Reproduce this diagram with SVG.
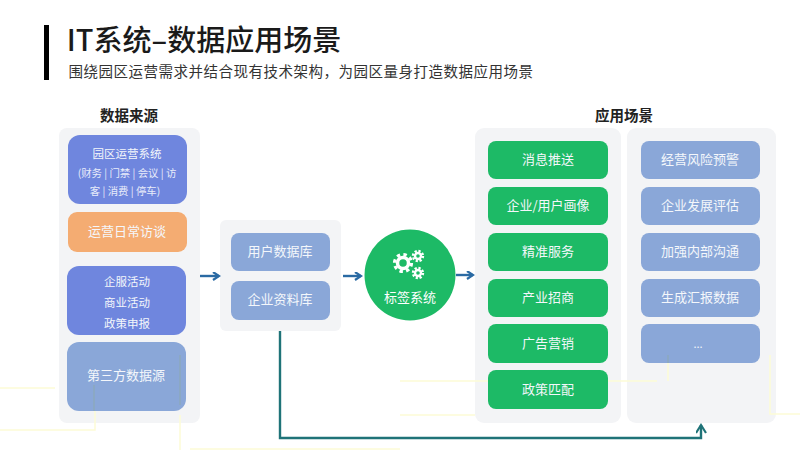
<svg xmlns="http://www.w3.org/2000/svg" width="800" height="450" viewBox="0 0 800 450">
<defs>
<style>
text{font-family:"Noto Sans CJK SC","Noto Sans",sans-serif;text-anchor:middle}
.panel{fill:#f3f4f6}
.lbl{fill:#f4f7fb;font-size:13px}
.small{fill:#e8ecfa;font-size:10.4px}
.head{fill:#222;font-size:14.5px;font-weight:700}
.green{fill:#1dba66}
.steel{fill:#8aa7d8}
.indigo{fill:#6f86de}
.deco{fill:none;stroke:#fdfbd6;stroke-width:1.5}
.over{fill:none;stroke:#8fae9e;stroke-width:1.5;opacity:.45}
.conn{fill:none;stroke-width:2.4}
.gear{fill:none;stroke:#fff}
</style>
<marker id="ab" markerWidth="10" markerHeight="10" refX="7" refY="4" orient="auto" markerUnits="userSpaceOnUse"><path d="M1 0L7 4L1 8" fill="none" stroke="#2a6aa3" stroke-width="2.2"/></marker>
<marker id="at" markerWidth="12" markerHeight="12" refX="9" refY="5" orient="auto" markerUnits="userSpaceOnUse"><path d="M1 0L9 5L1 10" fill="none" stroke="#1f7378" stroke-width="2.2"/></marker>
</defs>
<rect width="800" height="450" fill="#fff"/>
<g id="panels">
<rect class="panel" x="59" y="128" width="141" height="295" rx="8"/>
<rect class="panel" x="220" y="220" width="121" height="111" rx="6"/>
<rect class="panel" x="475" y="128" width="146" height="295" rx="9"/>
<rect class="panel" x="627" y="128" width="149" height="295" rx="9"/>
</g>
<g id="background-lines">
<path class="deco" d="M0 430H95V385"/><path class="deco" d="M0 388H55"/><path class="deco" d="M180 415V450M190 449H400"/>
<path class="deco" d="M400 381H657M668 355V381"/><path class="deco" d="M400 415H475"/><path class="deco" d="M770 355V414H800"/>
</g>
<g id="header">
<rect x="44" y="25" width="5" height="55" fill="#000"/>
<text x="204" y="51" style="font-size:29px;font-weight:500;fill:#1a1a1a">IT系统–数据应用场景</text>
<text x="301" y="77" style="font-size:14.5px;letter-spacing:.5px;fill:#333">围绕园区运营需求并结合现有技术架构，为园区量身打造数据应用场景</text>
</g>
<text class="head" x="129" y="121">数据来源</text>
<text class="head" x="624" y="121">应用场景</text>
<g id="connectors">
<path class="conn" stroke="#2a6aa3" d="M200 276H219" marker-end="url(#ab)"/>
<path class="conn" stroke="#2a6aa3" d="M343 276H361" marker-end="url(#ab)"/>
<path class="conn" stroke="#2a6aa3" d="M456 275H473" marker-end="url(#ab)"/>
<path class="conn" stroke="#1f7378" d="M280 331V438H701V425" marker-end="url(#at)"/>
</g>
<g id="n-park"><rect class="indigo" x="68" y="135" width="119" height="69" rx="12"/>
<text class="lbl" x="127" y="158" style="font-size:11.5px">园区运营系统</text>
<text class="small" x="127" y="177" xml:space="preserve">(财务 | 门禁 | 会议 | 访</text>
<text class="small" x="125" y="195" xml:space="preserve">客 | 消费 | 停车)</text></g>
<g id="n-daily"><rect x="68" y="212" width="119" height="40" rx="9" fill="#f4ac72"/><text class="lbl" x="127" y="236">运营日常访谈</text></g>
<g id="n-activity"><rect class="indigo" x="67" y="266" width="119" height="69" rx="12"/>
<text class="lbl" x="127" y="286" style="font-size:11.5px">企服活动</text>
<text class="lbl" x="127" y="307" style="font-size:11.5px">商业活动</text>
<text class="lbl" x="127" y="328" style="font-size:11.5px">政策申报</text></g>
<g id="n-third"><rect class="steel" x="67" y="342" width="119" height="69" rx="12"/><text class="lbl" x="126" y="380">第三方数据源</text></g>
<g id="n-userdb"><rect class="steel" x="231" y="233" width="99" height="38" rx="8"/><text class="lbl" x="280" y="256">用户数据库</text></g>
<g id="n-corpdb"><rect class="steel" x="231" y="281" width="99" height="39" rx="8"/><text class="lbl" x="280" y="304">企业资料库</text></g>
<g id="n-tag"><circle class="green" cx="410" cy="275" r="45.5"/>
<g transform="translate(-1 -1)">
<circle class="gear" cx="404" cy="264" r="5.5" stroke-width="3.5"/><circle class="gear" cx="404" cy="264" r="8.5" stroke-width="3.2" stroke-dasharray="3.4 3.3"/>
<circle class="gear" cx="419" cy="257" r="3" stroke-width="2.4"/><circle class="gear" cx="419" cy="257" r="5" stroke-width="2.4" stroke-dasharray="2.2 1.7"/>
<circle class="gear" cx="419" cy="274" r="3" stroke-width="2.4"/><circle class="gear" cx="419" cy="274" r="5" stroke-width="2.4" stroke-dasharray="2.2 1.7"/>
</g>
<text x="410" y="302" style="font-size:13px;fill:#fff">标签系统</text></g>
<g id="n-msg"><rect class="green" x="488" y="141" width="120" height="38" rx="8"/><text class="lbl" x="548" y="164">消息推送</text></g>
<g id="n-portrait"><rect class="green" x="488" y="187" width="120" height="38" rx="8"/><text class="lbl" x="548" y="210">企业/用户画像</text></g>
<g id="n-service"><rect class="green" x="488" y="233" width="120" height="38" rx="8"/><text class="lbl" x="548" y="256">精准服务</text></g>
<g id="n-invest"><rect class="green" x="488" y="279" width="120" height="38" rx="8"/><text class="lbl" x="548" y="302">产业招商</text></g>
<g id="n-ads"><rect class="green" x="488" y="324" width="120" height="39" rx="8"/><text class="lbl" x="548" y="348">广告营销</text></g>
<g id="n-policy"><rect class="green" x="488" y="370" width="120" height="39" rx="8"/><text class="lbl" x="548" y="394">政策匹配</text></g>
<g id="n-risk"><rect class="steel" x="641" y="141" width="119" height="38" rx="8"/><text class="lbl" x="700" y="164">经营风险预警</text></g>
<g id="n-eval"><rect class="steel" x="641" y="187" width="119" height="38" rx="8"/><text class="lbl" x="700" y="210">企业发展评估</text></g>
<g id="n-comm"><rect class="steel" x="641" y="233" width="119" height="38" rx="8"/><text class="lbl" x="700" y="256">加强内部沟通</text></g>
<g id="n-report"><rect class="steel" x="641" y="279" width="119" height="38" rx="8"/><text class="lbl" x="700" y="302">生成汇报数据</text></g>
<g id="n-more"><rect class="steel" x="641" y="324" width="119" height="39" rx="8"/><text class="lbl" x="698" y="348" style="font-size:11px">...</text></g>
<path class="over" d="M94 385V411M180 355V405M668 355V363"/>
</svg>
